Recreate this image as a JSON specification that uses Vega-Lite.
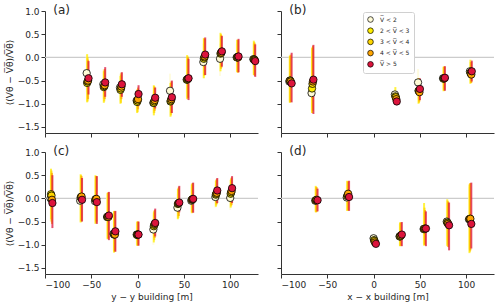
{
"$schema":"https://vega.github.io/schema/vega-lite/v6.json",
"padding":{"left":5,"top":4,"right":2,"bottom":2},
"background":"white",
"config":{"view":{"stroke":null},"axis":{"grid":false,"domainColor":"#333333","tickColor":"#333333","tickSize":4,"labelFont":"DejaVu Sans","labelFontSize":9,"labelColor":"#262626","titleFont":"DejaVu Sans","titleFontSize":9,"titleFontWeight":"normal","titleColor":"#262626"},"text":{"font":"DejaVu Sans"}},
"datasets":{"d":[
{"p":"a","k":1,"x":-55,"y":-0.34,"lo":-0.75,"hi":0.05},{"p":"a","k":2,"x":-54.5,"y":-0.55,"lo":-0.97,"hi":0.07},{"p":"a","k":3,"x":-54,"y":-0.52,"lo":-0.95,"hi":0.0},{"p":"a","k":4,"x":-53.5,"y":-0.5,"lo":-0.9,"hi":-0.05},{"p":"a","k":5,"x":-53,"y":-0.45,"lo":-0.8,"hi":-0.08},
{"p":"a","k":1,"x":-37,"y":-0.58,"lo":-0.9,"hi":-0.25},{"p":"a","k":2,"x":-36.5,"y":-0.64,"lo":-0.98,"hi":-0.3},{"p":"a","k":3,"x":-36,"y":-0.62,"lo":-0.95,"hi":-0.28},{"p":"a","k":4,"x":-35.5,"y":-0.6,"lo":-0.9,"hi":-0.25},{"p":"a","k":5,"x":-35,"y":-0.54,"lo":-0.85,"hi":-0.21},
{"p":"a","k":1,"x":-19,"y":-0.65,"lo":-0.95,"hi":-0.35},{"p":"a","k":2,"x":-18.5,"y":-0.7,"lo":-1.0,"hi":-0.4},{"p":"a","k":3,"x":-18,"y":-0.67,"lo":-0.98,"hi":-0.37},{"p":"a","k":4,"x":-17.5,"y":-0.63,"lo":-0.9,"hi":-0.33},{"p":"a","k":5,"x":-17,"y":-0.58,"lo":-0.85,"hi":-0.32},
{"p":"a","k":1,"x":-1,"y":-0.93,"lo":-1.15,"hi":-0.7},{"p":"a","k":2,"x":-0.5,"y":-0.96,"lo":-1.2,"hi":-0.7},{"p":"a","k":3,"x":0,"y":-0.93,"lo":-1.18,"hi":-0.68},{"p":"a","k":4,"x":0.5,"y":-0.9,"lo":-1.12,"hi":-0.65},{"p":"a","k":5,"x":1,"y":-0.79,"lo":-1.05,"hi":-0.6},
{"p":"a","k":1,"x":17,"y":-0.98,"lo":-1.2,"hi":-0.75},{"p":"a","k":2,"x":17.5,"y":-0.98,"lo":-1.25,"hi":-0.6},{"p":"a","k":3,"x":18,"y":-0.95,"lo":-1.2,"hi":-0.62},{"p":"a","k":4,"x":18.5,"y":-0.92,"lo":-1.15,"hi":-0.65},{"p":"a","k":5,"x":19,"y":-0.87,"lo":-1.1,"hi":-0.65},
{"p":"a","k":1,"x":35,"y":-0.72,"lo":-1.05,"hi":-0.35},{"p":"a","k":2,"x":35.5,"y":-0.95,"lo":-1.28,"hi":-0.55},{"p":"a","k":3,"x":36,"y":-0.93,"lo":-1.25,"hi":-0.55},{"p":"a","k":4,"x":36.5,"y":-0.9,"lo":-1.2,"hi":-0.52},{"p":"a","k":5,"x":37,"y":-0.86,"lo":-1.2,"hi":-0.5},
{"p":"a","k":1,"x":53,"y":-0.48,"lo":-0.85,"hi":-0.05},{"p":"a","k":2,"x":53.5,"y":-0.48,"lo":-0.9,"hi":0.05},{"p":"a","k":3,"x":54,"y":-0.47,"lo":-0.88,"hi":0.02},{"p":"a","k":4,"x":54.5,"y":-0.46,"lo":-0.87,"hi":0.0},{"p":"a","k":5,"x":55,"y":-0.45,"lo":-0.92,"hi":-0.03},
{"p":"a","k":1,"x":71,"y":-0.1,"lo":-0.45,"hi":0.3},{"p":"a","k":2,"x":71.5,"y":-0.03,"lo":-0.45,"hi":0.42},{"p":"a","k":3,"x":72,"y":0.0,"lo":-0.4,"hi":0.4},{"p":"a","k":4,"x":72.5,"y":0.02,"lo":-0.38,"hi":0.4},{"p":"a","k":5,"x":73,"y":0.06,"lo":-0.38,"hi":0.43},
{"p":"a","k":1,"x":89,"y":-0.03,"lo":-0.4,"hi":0.3},{"p":"a","k":2,"x":89.5,"y":0.08,"lo":-0.3,"hi":0.53},{"p":"a","k":3,"x":90,"y":0.1,"lo":-0.25,"hi":0.5},{"p":"a","k":4,"x":90.5,"y":0.1,"lo":-0.22,"hi":0.48},{"p":"a","k":5,"x":91,"y":0.13,"lo":-0.2,"hi":0.46},
{"p":"a","k":1,"x":107,"y":0.0,"lo":-0.3,"hi":0.3},{"p":"a","k":2,"x":107.5,"y":0.0,"lo":-0.32,"hi":0.38},{"p":"a","k":3,"x":108,"y":0.01,"lo":-0.32,"hi":0.38},{"p":"a","k":4,"x":108.5,"y":0.0,"lo":-0.33,"hi":0.37},{"p":"a","k":5,"x":109,"y":0.02,"lo":-0.32,"hi":0.4},
{"p":"a","k":1,"x":125,"y":-0.04,"lo":-0.35,"hi":0.3},{"p":"a","k":2,"x":125.5,"y":-0.04,"lo":-0.38,"hi":0.36},{"p":"a","k":3,"x":126,"y":-0.05,"lo":-0.38,"hi":0.33},{"p":"a","k":4,"x":126.5,"y":-0.06,"lo":-0.4,"hi":0.3},{"p":"a","k":5,"x":127,"y":-0.08,"lo":-0.42,"hi":0.28},
{"p":"b","k":1,"x":-91,"y":-0.52,"lo":-0.95,"hi":0.0},{"p":"b","k":2,"x":-90.5,"y":-0.5,"lo":-0.98,"hi":0.04},{"p":"b","k":3,"x":-90,"y":-0.5,"lo":-0.97,"hi":0.03},{"p":"b","k":4,"x":-89.5,"y":-0.52,"lo":-0.96,"hi":0.06},{"p":"b","k":5,"x":-88.5,"y":-0.56,"lo":-0.97,"hi":0.1},
{"p":"b","k":1,"x":-67,"y":-0.77,"lo":-1.15,"hi":0.0},{"p":"b","k":2,"x":-66.5,"y":-0.67,"lo":-1.2,"hi":0.2},{"p":"b","k":3,"x":-66,"y":-0.57,"lo":-1.2,"hi":0.22},{"p":"b","k":4,"x":-65.5,"y":-0.52,"lo":-1.15,"hi":0.25},{"p":"b","k":5,"x":-65,"y":-0.48,"lo":-1.22,"hi":0.27},
{"p":"b","k":1,"x":23,"y":-0.8,"lo":-0.9,"hi":-0.7},{"p":"b","k":2,"x":23.5,"y":-0.84,"lo":-0.95,"hi":-0.64},{"p":"b","k":3,"x":24,"y":-0.86,"lo":-0.96,"hi":-0.75},{"p":"b","k":4,"x":24.5,"y":-0.9,"lo":-0.97,"hi":-0.82},{"p":"b","k":5,"x":25,"y":-0.95,"lo":-1.0,"hi":-0.9},
{"p":"b","k":1,"x":48,"y":-0.54,"lo":-0.9,"hi":-0.25},{"p":"b","k":2,"x":48.5,"y":-0.72,"lo":-1.0,"hi":-0.45},{"p":"b","k":3,"x":49,"y":-0.72,"lo":-0.98,"hi":-0.45},{"p":"b","k":4,"x":49.5,"y":-0.75,"lo":-0.95,"hi":-0.5},{"p":"b","k":5,"x":50,"y":-0.68,"lo":-0.92,"hi":-0.45},
{"p":"b","k":1,"x":75,"y":-0.45,"lo":-0.7,"hi":-0.22},{"p":"b","k":2,"x":75.5,"y":-0.46,"lo":-0.73,"hi":-0.2},{"p":"b","k":3,"x":76,"y":-0.45,"lo":-0.72,"hi":-0.2},{"p":"b","k":4,"x":76.5,"y":-0.45,"lo":-0.7,"hi":-0.2},{"p":"b","k":5,"x":77,"y":-0.44,"lo":-0.72,"hi":-0.19},
{"p":"b","k":1,"x":104,"y":-0.3,"lo":-0.5,"hi":-0.1},{"p":"b","k":2,"x":104.5,"y":-0.33,"lo":-0.57,"hi":-0.05},{"p":"b","k":3,"x":105,"y":-0.35,"lo":-0.55,"hi":-0.1},{"p":"b","k":4,"x":105.5,"y":-0.37,"lo":-0.55,"hi":-0.1},{"p":"b","k":5,"x":106,"y":-0.3,"lo":-0.52,"hi":-0.07},
{"p":"c","k":1,"x":-94,"y":0.0,"lo":-0.5,"hi":0.5},{"p":"c","k":2,"x":-93.5,"y":0.09,"lo":-0.45,"hi":0.64},{"p":"c","k":3,"x":-93,"y":0.06,"lo":-0.5,"hi":0.6},{"p":"c","k":4,"x":-92.5,"y":-0.03,"lo":-0.55,"hi":0.55},{"p":"c","k":5,"x":-92,"y":-0.1,"lo":-0.64,"hi":0.5},
{"p":"c","k":1,"x":-62,"y":-0.05,"lo":-0.5,"hi":0.4},{"p":"c","k":2,"x":-61.5,"y":0.02,"lo":-0.52,"hi":0.52},{"p":"c","k":3,"x":-61,"y":0.03,"lo":-0.5,"hi":0.5},{"p":"c","k":4,"x":-60.5,"y":0.04,"lo":-0.48,"hi":0.48},{"p":"c","k":5,"x":-60,"y":-0.03,"lo":-0.5,"hi":0.44},
{"p":"c","k":1,"x":-46,"y":-0.06,"lo":-0.5,"hi":0.4},{"p":"c","k":2,"x":-45.5,"y":-0.02,"lo":-0.55,"hi":0.5},{"p":"c","k":3,"x":-45,"y":-0.02,"lo":-0.53,"hi":0.48},{"p":"c","k":4,"x":-44.5,"y":-0.01,"lo":-0.5,"hi":0.48},{"p":"c","k":5,"x":-44,"y":-0.08,"lo":-0.55,"hi":0.48},
{"p":"c","k":1,"x":-33,"y":-0.4,"lo":-0.85,"hi":0.1},{"p":"c","k":2,"x":-32.5,"y":-0.4,"lo":-0.88,"hi":0.12},{"p":"c","k":3,"x":-32,"y":-0.39,"lo":-0.87,"hi":0.12},{"p":"c","k":4,"x":-31.5,"y":-0.4,"lo":-0.86,"hi":0.13},{"p":"c","k":5,"x":-31,"y":-0.37,"lo":-0.9,"hi":0.14},
{"p":"c","k":1,"x":-26,"y":-0.76,"lo":-1.12,"hi":-0.3},{"p":"c","k":2,"x":-25.5,"y":-0.78,"lo":-1.17,"hi":-0.27},{"p":"c","k":3,"x":-25,"y":-0.77,"lo":-1.15,"hi":-0.28},{"p":"c","k":4,"x":-24.5,"y":-0.78,"lo":-1.14,"hi":-0.28},{"p":"c","k":5,"x":-24,"y":-0.71,"lo":-1.15,"hi":-0.27},
{"p":"c","k":1,"x":-1,"y":-0.78,"lo":-1.0,"hi":-0.52},{"p":"c","k":2,"x":-0.5,"y":-0.79,"lo":-1.02,"hi":-0.5},{"p":"c","k":3,"x":0,"y":-0.78,"lo":-1.02,"hi":-0.5},{"p":"c","k":4,"x":0.5,"y":-0.78,"lo":-1.01,"hi":-0.5},{"p":"c","k":5,"x":1,"y":-0.78,"lo":-1.02,"hi":-0.5},
{"p":"c","k":1,"x":17,"y":-0.67,"lo":-1.0,"hi":-0.35},{"p":"c","k":2,"x":17.5,"y":-0.6,"lo":-0.95,"hi":-0.3},{"p":"c","k":3,"x":18,"y":-0.57,"lo":-0.9,"hi":-0.27},{"p":"c","k":4,"x":18.5,"y":-0.55,"lo":-0.85,"hi":-0.25},{"p":"c","k":5,"x":19,"y":-0.53,"lo":-0.82,"hi":-0.22},
{"p":"c","k":1,"x":43,"y":-0.2,"lo":-0.45,"hi":0.1},{"p":"c","k":2,"x":43.5,"y":-0.12,"lo":-0.45,"hi":0.2},{"p":"c","k":3,"x":44,"y":-0.11,"lo":-0.42,"hi":0.22},{"p":"c","k":4,"x":44.5,"y":-0.1,"lo":-0.38,"hi":0.25},{"p":"c","k":5,"x":45,"y":-0.09,"lo":-0.3,"hi":0.27},
{"p":"c","k":1,"x":58,"y":-0.05,"lo":-0.3,"hi":0.25},{"p":"c","k":2,"x":58.5,"y":-0.03,"lo":-0.32,"hi":0.3},{"p":"c","k":3,"x":59,"y":-0.02,"lo":-0.3,"hi":0.32},{"p":"c","k":4,"x":59.5,"y":-0.02,"lo":-0.3,"hi":0.33},{"p":"c","k":5,"x":60,"y":-0.01,"lo":-0.31,"hi":0.34},
{"p":"c","k":1,"x":84,"y":0.03,"lo":-0.2,"hi":0.3},{"p":"c","k":2,"x":84.5,"y":0.08,"lo":-0.18,"hi":0.38},{"p":"c","k":3,"x":85,"y":0.1,"lo":-0.15,"hi":0.4},{"p":"c","k":4,"x":85.5,"y":0.12,"lo":-0.12,"hi":0.42},{"p":"c","k":5,"x":86,"y":0.17,"lo":-0.1,"hi":0.44},
{"p":"c","k":1,"x":100,"y":0.01,"lo":-0.25,"hi":0.3},{"p":"c","k":2,"x":100.5,"y":0.1,"lo":-0.2,"hi":0.4},{"p":"c","k":3,"x":101,"y":0.13,"lo":-0.17,"hi":0.43},{"p":"c","k":4,"x":101.5,"y":0.16,"lo":-0.14,"hi":0.45},{"p":"c","k":5,"x":102,"y":0.22,"lo":-0.1,"hi":0.48},
{"p":"d","k":1,"x":-63,"y":-0.05,"lo":-0.28,"hi":0.2},{"p":"d","k":2,"x":-62.5,"y":-0.04,"lo":-0.3,"hi":0.27},{"p":"d","k":3,"x":-62,"y":-0.04,"lo":-0.3,"hi":0.25},{"p":"d","k":4,"x":-61.5,"y":-0.03,"lo":-0.29,"hi":0.24},{"p":"d","k":5,"x":-60.5,"y":-0.04,"lo":-0.28,"hi":0.21},
{"p":"d","k":1,"x":-29,"y":0.02,"lo":-0.25,"hi":0.3},{"p":"d","k":2,"x":-28.5,"y":0.05,"lo":-0.27,"hi":0.38},{"p":"d","k":3,"x":-28,"y":0.07,"lo":-0.27,"hi":0.37},{"p":"d","k":4,"x":-27.5,"y":0.1,"lo":-0.25,"hi":0.36},{"p":"d","k":5,"x":-26.5,"y":0.03,"lo":-0.27,"hi":0.38},
{"p":"d","k":1,"x":0,"y":-0.86,"lo":-0.92,"hi":-0.8},{"p":"d","k":2,"x":0.5,"y":-0.9,"lo":-0.95,"hi":-0.85},{"p":"d","k":3,"x":1,"y":-0.92,"lo":-0.97,"hi":-0.87},{"p":"d","k":4,"x":1.5,"y":-0.95,"lo":-1.0,"hi":-0.9},{"p":"d","k":5,"x":2.5,"y":-0.98,"lo":-1.02,"hi":-0.94},
{"p":"d","k":1,"x":28,"y":-0.82,"lo":-1.02,"hi":-0.55},{"p":"d","k":2,"x":28.5,"y":-0.82,"lo":-1.03,"hi":-0.52},{"p":"d","k":3,"x":29,"y":-0.81,"lo":-1.03,"hi":-0.52},{"p":"d","k":4,"x":29.5,"y":-0.8,"lo":-1.02,"hi":-0.52},{"p":"d","k":5,"x":30.5,"y":-0.78,"lo":-1.03,"hi":-0.51},
{"p":"d","k":1,"x":54,"y":-0.66,"lo":-0.98,"hi":-0.3},{"p":"d","k":2,"x":54.5,"y":-0.66,"lo":-1.02,"hi":-0.1},{"p":"d","k":3,"x":55,"y":-0.66,"lo":-1.0,"hi":-0.2},{"p":"d","k":4,"x":55.5,"y":-0.65,"lo":-1.0,"hi":-0.25},{"p":"d","k":5,"x":56.5,"y":-0.65,"lo":-1.03,"hi":-0.28},
{"p":"d","k":1,"x":79,"y":-0.5,"lo":-0.9,"hi":-0.1},{"p":"d","k":2,"x":79.5,"y":-0.52,"lo":-1.03,"hi":-0.02},{"p":"d","k":3,"x":80,"y":-0.53,"lo":-1.0,"hi":-0.05},{"p":"d","k":4,"x":80.5,"y":-0.55,"lo":-1.05,"hi":-0.07},{"p":"d","k":5,"x":81.5,"y":-0.58,"lo":-1.12,"hi":-0.09},
{"p":"d","k":1,"x":103,"y":-0.45,"lo":-1.1,"hi":0.25},{"p":"d","k":2,"x":103.5,"y":-0.45,"lo":-1.18,"hi":0.3},{"p":"d","k":3,"x":104,"y":-0.44,"lo":-1.15,"hi":0.32},{"p":"d","k":4,"x":104.5,"y":-0.44,"lo":-1.12,"hi":0.33},{"p":"d","k":5,"x":105.5,"y":-0.55,"lo":-1.08,"hi":0.34}
]},
"columns":2,
"spacing":{"row":19,"column":23},
"bounds":"flush",
"resolve":{"scale":{"fill":"independent","color":"independent"},"legend":{"fill":"independent","color":"independent"}},
"concat":[
{"width":213,"height":122,
 "layer":[
  {"data":{"values":[{"z":0}]},"mark":{"type":"rule","color":"#cccccc","strokeWidth":1.3},"encoding":{"y":{"field":"z","type":"quantitative"}}},
  {"data":{"name":"d"},"transform":[{"filter":"datum.p=='a'"}],"mark":{"type":"rule","strokeWidth":2,"opacity":0.75},"encoding":{
    "x":{"field":"x","type":"quantitative","scale":{"domain":[-100,130],"nice":false,"zero":false},"axis":{"values":[-100,-50,0,50,100],"tickCount":8,"labels":false,"title":null}},
    "y":{"field":"lo","type":"quantitative","scale":{"domain":[-1.63,1.0],"nice":false,"zero":false},"axis":{"values":[-1.5,-1,-0.5,0,0.5,1],"tickCount":8,"format":".1f","labelOverlap":false,"title":"⟨(Vθ − V\u0305θ\u0305)/V\u0305θ\u0305⟩","titlePadding":3}},
    "y2":{"field":"hi"},
    "color":{"field":"k","type":"nominal","scale":{"domain":[1,2,3,4,5,6],"range":["#fffbd6","#ffee00","#ffd700","#ffa500","#dc143c","#999999"]},"legend":null}}},
  {"data":{"name":"d"},"transform":[{"filter":"datum.p=='a'"}],"mark":{"type":"circle","size":54,"stroke":"black","strokeWidth":0.8,"opacity":1},"encoding":{
    "x":{"field":"x","type":"quantitative"},"y":{"field":"y","type":"quantitative"},
    "fill":{"field":"k","type":"nominal","scale":{"domain":[1,2,3,4,5],"range":["#fffbd6","#ffee00","#ffd700","#ffa500","#dc143c"]},"legend":null},
    "order":{"field":"k","type":"quantitative"}}},
  {"data":{"values":[{"t":"(a)","x":-91,"y":1.0}]},"mark":{"type":"text","fontSize":12,"fontWeight":"normal","align":"left","baseline":"middle","color":"#262626","dy":-1},"encoding":{"text":{"field":"t"},"x":{"field":"x","type":"quantitative"},"y":{"field":"y","type":"quantitative"}}}
 ]},
{"width":213,"height":122,
 "layer":[
  {"data":{"values":[{"z":0}]},"mark":{"type":"rule","color":"#cccccc","strokeWidth":1.3},"encoding":{"y":{"field":"z","type":"quantitative"}}},
  {"data":{"name":"d"},"transform":[{"filter":"datum.p=='b'"}],"mark":{"type":"rule","strokeWidth":2,"opacity":0.75},"encoding":{
    "x":{"field":"x","type":"quantitative","scale":{"domain":[-100,130],"nice":false,"zero":false},"axis":{"values":[-100,-50,0,50,100],"tickCount":8,"labels":false,"title":null}},
    "y":{"field":"lo","type":"quantitative","scale":{"domain":[-1.63,1.0],"nice":false,"zero":false},"axis":{"values":[-1.5,-1,-0.5,0,0.5,1],"tickCount":8,"labels":false,"title":null}},
    "y2":{"field":"hi"},
    "color":{"field":"k","type":"nominal","scale":{"domain":[1,2,3,4,5,6],"range":["#fffbd6","#ffee00","#ffd700","#ffa500","#dc143c","#999999"]},"legend":null}}},
  {"data":{"name":"d"},"transform":[{"filter":"datum.p=='b'"}],"mark":{"type":"circle","size":54,"stroke":"black","strokeWidth":0.8,"opacity":1},"encoding":{
    "x":{"field":"x","type":"quantitative"},"y":{"field":"y","type":"quantitative"},
    "fill":{"field":"k","type":"nominal","scale":{"domain":[1,2,3,4,5],"range":["#fffbd6","#ffee00","#ffd700","#ffa500","#dc143c"]},
      "legend":{"orient":"none","legendX":82,"legendY":1,"title":null,"labelFontSize":6,"labelFont":"DejaVu Sans","labelColor":"#262626","symbolType":"circle","symbolSize":32,"symbolStrokeColor":"black","symbolStrokeWidth":0.7,"rowPadding":2.2,"padding":4,"labelOffset":6,"strokeColor":"#d0d0d0","fillColor":"white","cornerRadius":2,
        "labelExpr":"datum.value == 1 ? 'V\u0305 < 2' : datum.value == 2 ? '2 < V\u0305 < 3' : datum.value == 3 ? '3 < V\u0305 < 4' : datum.value == 4 ? '4 < V\u0305 < 5' : 'V\u0305 > 5'"}},
    "order":{"field":"k","type":"quantitative"}}},
  {"data":{"values":[{"t":"(b)","x":-91,"y":1.0}]},"mark":{"type":"text","fontSize":12,"fontWeight":"normal","align":"left","baseline":"middle","color":"#262626","dy":-1},"encoding":{"text":{"field":"t"},"x":{"field":"x","type":"quantitative"},"y":{"field":"y","type":"quantitative"}}}
 ]},
{"width":213,"height":122,
 "layer":[
  {"data":{"values":[{"z":0}]},"mark":{"type":"rule","color":"#cccccc","strokeWidth":1.3},"encoding":{"y":{"field":"z","type":"quantitative"}}},
  {"data":{"name":"d"},"transform":[{"filter":"datum.p=='c'"}],"mark":{"type":"rule","strokeWidth":2,"opacity":0.75},"encoding":{
    "x":{"field":"x","type":"quantitative","scale":{"domain":[-100,130],"nice":false,"zero":false},"axis":{"values":[-100,-50,0,50,100],"tickCount":8,"labelOverlap":false,"title":"y − y building [m]","titlePadding":3}},
    "y":{"field":"lo","type":"quantitative","scale":{"domain":[-1.63,1.0],"nice":false,"zero":false},"axis":{"values":[-1.5,-1,-0.5,0,0.5,1],"tickCount":8,"format":".1f","labelOverlap":false,"title":"⟨(Vθ − V\u0305θ\u0305)/V\u0305θ\u0305⟩","titlePadding":3}},
    "y2":{"field":"hi"},
    "color":{"field":"k","type":"nominal","scale":{"domain":[1,2,3,4,5,6],"range":["#fffbd6","#ffee00","#ffd700","#ffa500","#dc143c","#999999"]},"legend":null}}},
  {"data":{"name":"d"},"transform":[{"filter":"datum.p=='c'"}],"mark":{"type":"circle","size":54,"stroke":"black","strokeWidth":0.8,"opacity":1},"encoding":{
    "x":{"field":"x","type":"quantitative"},"y":{"field":"y","type":"quantitative"},
    "fill":{"field":"k","type":"nominal","scale":{"domain":[1,2,3,4,5],"range":["#fffbd6","#ffee00","#ffd700","#ffa500","#dc143c"]},"legend":null},
    "order":{"field":"k","type":"quantitative"}}},
  {"data":{"values":[{"t":"(c)","x":-91,"y":1.0}]},"mark":{"type":"text","fontSize":12,"fontWeight":"normal","align":"left","baseline":"middle","color":"#262626","dy":-1},"encoding":{"text":{"field":"t"},"x":{"field":"x","type":"quantitative"},"y":{"field":"y","type":"quantitative"}}}
 ]},
{"width":213,"height":122,
 "layer":[
  {"data":{"values":[{"z":0}]},"mark":{"type":"rule","color":"#cccccc","strokeWidth":1.3},"encoding":{"y":{"field":"z","type":"quantitative"}}},
  {"data":{"name":"d"},"transform":[{"filter":"datum.p=='d'"}],"mark":{"type":"rule","strokeWidth":2,"opacity":0.75},"encoding":{
    "x":{"field":"x","type":"quantitative","scale":{"domain":[-100,130],"nice":false,"zero":false},"axis":{"values":[-100,-50,0,50,100],"tickCount":8,"labelOverlap":false,"title":"x − x building [m]","titlePadding":3}},
    "y":{"field":"lo","type":"quantitative","scale":{"domain":[-1.63,1.0],"nice":false,"zero":false},"axis":{"values":[-1.5,-1,-0.5,0,0.5,1],"tickCount":8,"labels":false,"title":null}},
    "y2":{"field":"hi"},
    "color":{"field":"k","type":"nominal","scale":{"domain":[1,2,3,4,5,6],"range":["#fffbd6","#ffee00","#ffd700","#ffa500","#dc143c","#999999"]},"legend":null}}},
  {"data":{"name":"d"},"transform":[{"filter":"datum.p=='d'"}],"mark":{"type":"circle","size":54,"stroke":"black","strokeWidth":0.8,"opacity":1},"encoding":{
    "x":{"field":"x","type":"quantitative"},"y":{"field":"y","type":"quantitative"},
    "fill":{"field":"k","type":"nominal","scale":{"domain":[1,2,3,4,5],"range":["#fffbd6","#ffee00","#ffd700","#ffa500","#dc143c"]},"legend":null},
    "order":{"field":"k","type":"quantitative"}}},
  {"data":{"values":[{"t":"(d)","x":-91,"y":1.0}]},"mark":{"type":"text","fontSize":12,"fontWeight":"normal","align":"left","baseline":"middle","color":"#262626","dy":-1},"encoding":{"text":{"field":"t"},"x":{"field":"x","type":"quantitative"},"y":{"field":"y","type":"quantitative"}}}
 ]}
]
}
